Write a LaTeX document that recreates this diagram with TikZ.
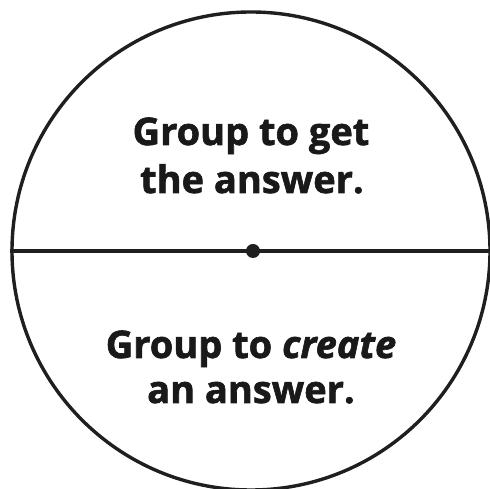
\documentclass[tikz,border=0pt]{standalone}
\usepackage{fontspec}
\setmainfont[BoldFeatures={FakeBold=1.6},BoldItalicFeatures={FakeBold=1.6}]{Open Sans}
\begin{document}
\begin{tikzpicture}[x=1pt,y=1pt,
  lbl/.style={anchor=base,inner sep=0pt,font=\fontsize{38}{46}\selectfont\bfseries,text=black!90},
  ln/.style={line width=3.4pt,draw=black!88}]
\useasboundingbox (0,0) rectangle (490,489);
\clip (0,0) rectangle (490,489);
\node[circle,minimum size=478pt,inner sep=0pt,ln] (c) at (251,238) {};
\coordinate (r) at (492,238);
\node[circle,fill=black!88,minimum size=14pt,inner sep=0pt] (dot) at (253,238) {};
\draw[ln] (c.west) -- (r);
\node[lbl] (t1) at (251,344) {Group to get};
\node[lbl] (t2) at (252,296) {the answer.};
\node[lbl] (b1) at (251,131) {Group to \textit{create}};
\node[lbl] (b2) at (251,86) {an answer.};
\end{tikzpicture}
\end{document}
